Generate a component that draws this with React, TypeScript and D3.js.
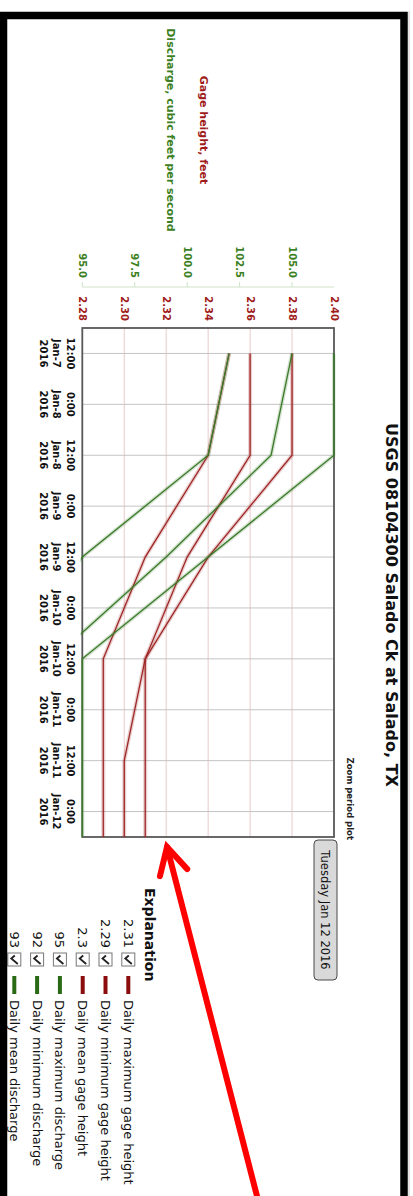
import React from "react";
import * as d3 from "d3";

// ---- data (daily values, plotted at noon) ----
const dates = ["2016-01-07", "2016-01-08", "2016-01-09", "2016-01-10", "2016-01-11", "2016-01-12"];
const gageMax = [2.38, 2.38, 2.34, 2.31, 2.31, 2.31];
const gageMin = [2.35, 2.34, 2.31, 2.29, 2.29, 2.29];
const gageMean = [2.36, 2.36, 2.33, 2.31, 2.3, 2.3];
const dischargeMax = [107, 107, 101, 95, 95, 95];
const dischargeMin = [102, 101, 95, 92, 92, 92];
const dischargeMean = [105, 104, 99, 93.6, 93, 93];

const gageTicks = [2.28, 2.3, 2.32, 2.34, 2.36, 2.38, 2.4];
const dischargeTicks = [95, 97.5, 100, 102.5, 105];
const gageDomain = [2.28, 2.4];
const dischargeDomain = [95, 107];
const timeDomain = ["2016-01-07T06:00", "2016-01-12T06:00"];

const seriesNames = [
  "Daily maximum gage height",
  "Daily minimum gage height",
  "Daily mean gage height",
  "Daily maximum discharge",
  "Daily minimum discharge",
  "Daily mean discharge",
];
const seriesKinds = ["gage", "gage", "gage", "discharge", "discharge", "discharge"];
const seriesValues = [gageMax, gageMin, gageMean, dischargeMax, dischargeMin, dischargeMean];

const title = "USGS 08104300 Salado Ck at Salado, TX";
const selectedDay = "Tuesday Jan 12 2016";

const RED = "#9e2626";
const GREEN = "#3a7a28";
const RED_TXT = "#a01c1c";
const GREEN_TXT = "#3c7f22";
const FONT = "DejaVu Sans";

export default function App() {
  const W = 413;
  const H = 1196;
  // rotated frame: u along screen-down, v = 413 - screenX
  const u0 = 328, u1 = 837;
  const vTop = 79, vBot = 330.7;

  const parse = d3.timeParse("%Y-%m-%dT%H:%M");
  const x = d3.scaleTime().domain(timeDomain.map((s) => parse(s) as Date)).range([u0, u1]);
  const yG = d3.scaleLinear().domain(gageDomain).range([vBot, vTop]);
  const yD = d3.scaleLinear().domain(dischargeDomain).range([vBot, vTop]);

  const noon = dates.map((d) => parse(d + "T12:00") as Date);
  const timeTicks = d3.timeHour.every(12)!.range(parse("2016-01-07T12:00") as Date, parse("2016-01-12T06:00") as Date);
  const fH = d3.timeFormat("%-H:%M");
  const fD = d3.timeFormat("%b-%-d");
  const fY = d3.timeFormat("%Y");

  const line = (vals: number[], scale: d3.ScaleLinear<number, number>) =>
    d3
      .line<number>()
      .x((_, i) => x(noon[i]))
      .y((d) => scale(d))(vals) as string;

  // arrow annotation (screen coords)
  const tip = [167, 847];
  const tail = [258, 1200];
  const ang = Math.atan2(tail[1] - tip[1], tail[0] - tip[0]);
  const headLen = 30;
  const a1 = ang + (28 * Math.PI) / 180;
  const a2 = ang - (28 * Math.PI) / 180;

  return (
    <svg
      width={W}
      height={H}
      style={{ position: "absolute", left: 0, top: 0, background: "#fff" }}
      fontFamily={FONT}
    >
      <rect x={0} y={0} width={W} height={H} fill="#fff" />
      <g transform={`translate(${W},0) rotate(90)`}>
        <defs>
          <clipPath id="plotclip">
            <rect x={u0} y={vTop - 1.5} width={u1 - u0} height={vBot - vTop + 3} />
          </clipPath>
        </defs>
        {/* title */}
        <text x={605} y={27} textAnchor="middle" fontSize={16} fontWeight="bold" fill="#111">
          {title}
        </text>
        <text x={840} y={66} textAnchor="end" fontSize={8.5} fontWeight="bold" fill="#222">
          Zoom period plot
        </text>

        {/* axis titles */}
        <text x={130} y={209.5} textAnchor="middle" dominantBaseline="central" fontSize={11} fontWeight="bold" fill={RED_TXT}>
          Gage height, feet
        </text>
        <text x={130} y={242.5} textAnchor="middle" dominantBaseline="central" fontSize={11} fontWeight="bold" fill={GREEN_TXT}>
          Discharge, cubic feet per second
        </text>

        {/* discharge axis */}
        <line x1={287} x2={287} y1={vTop} y2={vBot} stroke="#cfe2c8" strokeWidth={1} />
        {dischargeTicks.map((t) => (
          <g key={"dt" + t}>
            <line x1={282} x2={287} y1={yD(t)} y2={yD(t)} stroke="#cfe2c8" />
            <text x={278} y={yD(t)} textAnchor="end" dominantBaseline="central" fontSize={10} fontWeight="bold" fill={GREEN_TXT}>
              {d3.format(".1f")(t)}
            </text>
          </g>
        ))}

        {/* gage axis labels */}
        {gageTicks.map((t) => (
          <text key={"gt" + t} x={321} y={yG(t)} textAnchor="end" dominantBaseline="central" fontSize={10} fontWeight="bold" fill={RED_TXT}>
            {d3.format(".2f")(t)}
          </text>
        ))}

        {/* grid */}
        {gageTicks.slice(1, -1).map((t) => (
          <line key={"gg" + t} x1={u0} x2={u1} y1={yG(t)} y2={yG(t)} stroke="#e8caca" strokeWidth={1} />
        ))}
        {timeTicks.map((t, i) => (
          <line key={"tg" + i} x1={x(t)} x2={x(t)} y1={vTop} y2={vBot} stroke="#c4c4c4" strokeWidth={1} />
        ))}

        {/* time labels */}
        {timeTicks.map((t, i) => (
          <g key={"tl" + i} fontSize={10} fontWeight="bold" fill="#111" textAnchor="middle">
            <text x={x(t)} y={346.5}>{fH(t)}</text>
            <text x={x(t)} y={360}>{fD(t)}</text>
            <text x={x(t)} y={373.5}>{fY(t)}</text>
          </g>
        ))}

        {/* plot box */}
        <rect x={u0} y={vTop} width={u1 - u0} height={vBot - vTop} fill="none" stroke="#585858" strokeWidth={1.8} />

        {/* series */}
        <g clipPath="url(#plotclip)" fill="none">
          {seriesValues.map((vals, i) => {
            const isG = seriesKinds[i] === "gage";
            const c = isG ? RED : GREEN;
            const d = line(vals, isG ? yG : yD);
            return (
              <g key={"s" + i}>
                <path d={d} stroke={c} strokeOpacity={0.22} strokeWidth={4} />
                <path d={d} stroke={c} strokeWidth={1.3} />
              </g>
            );
          })}
        </g>

        {/* selected-day button */}
        <rect x={840} y={76} width={140} height={23} rx={4} fill="#d9d9d9" stroke="#4a4a4a" strokeWidth={1} />
        <text x={910} y={88} textAnchor="middle" dominantBaseline="central" fontSize={11.5} fill="#111">
          {selectedDay}
        </text>

        {/* legend */}
        <text x={888} y={268} fontSize={14} fontWeight="bold" fill="#111">
          Explanation
        </text>
        {seriesNames.map((name, i) => {
          const v = 284.7 + 22.8 * i;
          const vals = seriesValues[i];
          const c = seriesKinds[i] === "gage" ? "#8a0c0c" : "#2a6a14";
          return (
            <g key={"lg" + i}>
              <text x={948} y={v} textAnchor="end" dominantBaseline="central" fontSize={13} fill="#111">
                {String(vals[vals.length - 1])}
              </text>
              <rect x={953} y={v - 6.5} width={13} height={13} fill="#fff" stroke="#777" strokeWidth={1} />
              <path d={`M${955.5},${v - 0.5} L${958.5},${v + 3} L${964},${v - 3.5}`} fill="none" stroke="#222" strokeWidth={1.8} />
              <line x1={976} x2={994} y1={v} y2={v} stroke={c} strokeWidth={4} />
              <text x={1000} y={v} dominantBaseline="central" fontSize={13} fill="#111">
                {name}
              </text>
            </g>
          );
        })}
      </g>

      {/* black frame */}
      <path d={`M3.5,${H} V15.5 H404 V${H}`} fill="none" stroke="#000" strokeWidth={7.5} strokeLinejoin="miter" />
      <line x1={409} x2={409} y1={11} y2={H} stroke="#c8c8c8" strokeWidth={1} />

      {/* red arrow annotation */}
      <g stroke="#ff0000" strokeWidth={6} strokeLinecap="round" fill="none">
        <line x1={tail[0]} y1={tail[1]} x2={tip[0]} y2={tip[1]} />
        <path
          d={`M${tip[0] + headLen * Math.cos(a1)},${tip[1] + headLen * Math.sin(a1)} L${tip[0]},${tip[1]} L${tip[0] + headLen * Math.cos(a2)},${tip[1] + headLen * Math.sin(a2)}`}
          strokeLinejoin="miter"
        />
      </g>
    </svg>
  );
}
